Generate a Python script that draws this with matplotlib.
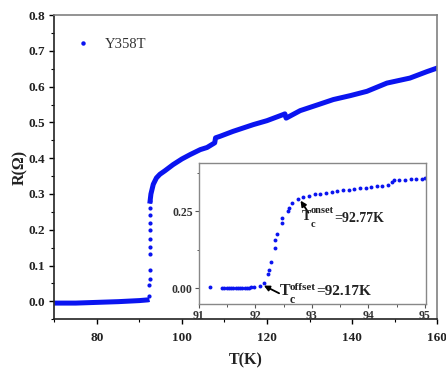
import matplotlib
matplotlib.use("Agg")
import matplotlib.pyplot as plt
from matplotlib.ticker import MultipleLocator
from matplotlib.transforms import offset_copy

plt.rcParams["font.family"] = ["Liberation Serif", "DejaVu Serif"]
plt.rcParams["font.weight"] = "bold"

# main curve: superconducting (flat) part, transition points, normal state
flat_T = [70.0, 75.0, 80.0, 85.0, 90.0, 92.0, 92.35]
flat_R = [-0.005, -0.005, -0.003, -0.001, 0.002, 0.004, 0.005]

trans_T = [92.35, 92.35, 92.37, 92.38, 92.38, 92.40, 92.40, 92.42, 92.43, 92.45, 92.46, 92.48]
trans_R = [0.015, 0.045, 0.062, 0.088, 0.132, 0.153, 0.175, 0.200, 0.220, 0.240, 0.260, 0.280]

norm_T = [92.5, 92.7, 93.25, 94.0, 94.8, 96.0, 97.9, 100.0, 101.9, 104.3, 105.9,
          107.7, 107.9, 108.9, 112.0, 116.8, 120.0, 123.8, 124.2, 124.5, 127.8,
          132.1, 135.6, 139.6, 143.5, 148.2, 153.6, 157.6, 160.0]
norm_R = [0.280, 0.300, 0.327, 0.345, 0.355, 0.365, 0.382, 0.398, 0.410, 0.424, 0.430,
          0.443, 0.457, 0.461, 0.475, 0.494, 0.505, 0.522, 0.524, 0.512, 0.533,
          0.550, 0.564, 0.575, 0.587, 0.610, 0.624, 0.642, 0.652]

# inset: zoom on the transition
inset_T = [91.19, 91.41, 91.45, 91.49, 91.53, 91.57, 91.61, 91.65, 91.69, 91.73,
           91.77, 91.81, 91.85, 91.89, 91.93, 91.97, 92.09, 92.16, 92.22, 92.24,
           92.28, 92.34, 92.35, 92.39, 92.47, 92.48, 92.57, 92.60, 92.65, 92.75,
           92.85, 92.95, 93.05, 93.15, 93.25, 93.35, 93.45, 93.55, 93.65, 93.75,
           93.85, 93.95, 94.05, 94.15, 94.25, 94.35, 94.42, 94.45, 94.55, 94.65,
           94.75, 94.85, 94.95, 95.0]
inset_R = [0.002, 0.000, 0.000, 0.000, 0.000, 0.000, 0.000, 0.000, 0.000, 0.000,
           0.000, 0.000, 0.001, 0.001, 0.002, 0.002, 0.006, 0.017, 0.045, 0.060,
           0.085, 0.129, 0.156, 0.177, 0.212, 0.226, 0.250, 0.259, 0.275, 0.288,
           0.295, 0.300, 0.304, 0.307, 0.310, 0.313, 0.316, 0.318, 0.320, 0.322,
           0.324, 0.326, 0.328, 0.331, 0.333, 0.335, 0.345, 0.350, 0.351, 0.352,
           0.353, 0.354, 0.355, 0.356]

onset_label = ("T", "c", "onset", "=92.77K")
offset_label = ("T", "c", "offset", "=92.17K")

blue = "#0a14f0"
dark = "#222222"


def tc_label(ax, x, y, parts, sizes, shifts):
    # T with sub/superscript, each piece placed in pixels from the T baseline
    for text, size, (dx, dy) in zip(parts, sizes, shifts):
        tr = offset_copy(ax.transData, fig=ax.figure, x=dx, y=dy, units="dots")
        ax.text(x, y, text, transform=tr, fontsize=size, fontweight="bold",
                color=dark, ha="left", va="baseline")


fig = plt.figure(figsize=(4.46, 3.69), dpi=100)
ax = fig.add_axes([0.122, 0.135, 0.858, 0.824])

ax.plot(flat_T, flat_R, color=blue, lw=3.6, solid_capstyle="butt")
ax.plot(trans_T, trans_R, "o", color=blue, ms=3.0, mew=0)
ax.plot(norm_T, norm_R, color=blue, lw=3.6, solid_joinstyle="round")
ax.plot([], [], "o", color=blue, ms=3.2, mew=0, label="Y358T")

ax.set_xlim(70, 160)
ax.set_ylim(-0.05, 0.8)
ax.xaxis.set_major_locator(MultipleLocator(20))
ax.xaxis.set_minor_locator(MultipleLocator(10))
ax.yaxis.set_major_locator(MultipleLocator(0.1))
ax.yaxis.set_minor_locator(MultipleLocator(0.05))
ax.tick_params(which="major", direction="out", length=3.5, width=1.0, labelsize=9.5, pad=3,
               labelcolor=dark)
ax.tick_params(which="minor", direction="out", length=2.0, width=0.8)
ax.tick_params(axis="x", which="major", pad=5.5)
ax.xaxis.set_major_formatter(plt.FuncFormatter(lambda v, p: f"{v:.0f}"))
ax.yaxis.set_major_formatter(plt.FuncFormatter(lambda v, p: f"{v:.1f}"))

for side in ("top", "right"):
    ax.spines[side].set_color("#808080")
    ax.spines[side].set_linewidth(1.2)
for side in ("left", "bottom"):
    ax.spines[side].set_color(dark)
    ax.spines[side].set_linewidth(1.2)

ax.set_xlabel("T(K)", fontsize=11.5, fontweight="bold", labelpad=6.5, color=dark)
ax.set_ylabel("R(\u03a9)", fontsize=11.5, fontweight="bold", labelpad=0.5, color=dark)

leg = ax.legend(loc="center left", bbox_to_anchor=(0.022, 0.905), frameon=False,
                prop={"size": 10.5, "weight": "normal"}, handletextpad=1.0, handlelength=1.0)
for t in leg.get_texts():
    t.set_color("#333333")

# inset
axin = fig.add_axes([0.446, 0.176, 0.509, 0.382])
axin.plot(inset_T, inset_R, "o", color=blue, ms=2.8, mew=0)
axin.set_xlim(91, 95.02)
axin.set_ylim(-0.052, 0.406)
axin.xaxis.set_major_locator(MultipleLocator(1))
axin.xaxis.set_minor_locator(MultipleLocator(0.5))
axin.yaxis.set_major_locator(MultipleLocator(0.25))
axin.yaxis.set_minor_locator(MultipleLocator(0.125))
axin.tick_params(which="major", direction="out", length=3, width=0.8, labelsize=8.5, pad=1.5,
                 color="#555555", labelcolor="#333333")
axin.tick_params(which="minor", direction="out", length=1.8, width=0.7, color="#555555")
axin.xaxis.set_major_formatter(plt.FuncFormatter(lambda v, p: f"{v:.0f}"))
axin.yaxis.set_major_formatter(plt.FuncFormatter(lambda v, p: f"{v:.2f}"))
for side in axin.spines.values():
    side.set_color("#888888")
    side.set_linewidth(1.0)

arrow = dict(arrowstyle="-|>", color="black", lw=1.3, mutation_scale=8, shrinkA=0, shrinkB=0)
axin.annotate("", xy=(92.80, 0.284), xytext=(92.94, 0.245), arrowprops=arrow)
axin.annotate("", xy=(92.15, 0.008), xytext=(92.42, -0.017), arrowprops=arrow)

tc_label(axin, 92.83, 0.221, onset_label, (10, 7.5, 7.5, 10),
         ((0, 0), (8.5, -6.7), (8.5, 6.7), (32, -1.7)))
tc_label(axin, 92.44, -0.023, offset_label, (11.5, 8.5, 8, 11),
         ((0, 0), (9.5, -8.3), (9.5, 5), (36, 0)))

fig.savefig("out.png", dpi=100)
